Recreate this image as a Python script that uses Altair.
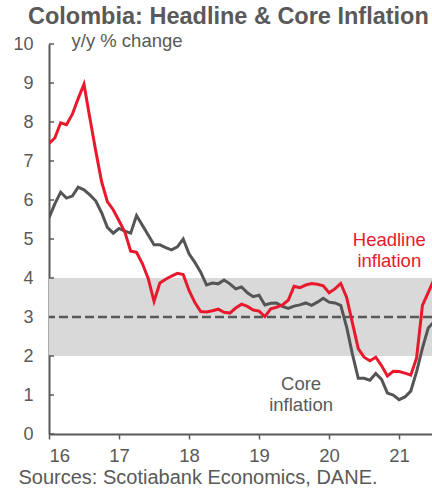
import altair as alt
import pandas as pd

# Monthly y/y inflation, Jan 2016 - Jul 2021
headline = [
    7.45, 7.59, 7.98, 7.93, 8.20, 8.60, 8.97, 8.10, 7.27, 6.48, 5.96, 5.75,
    5.47, 5.18, 4.69, 4.66, 4.37, 3.99, 3.40, 3.87, 3.97, 4.05, 4.12, 4.09,
    3.68, 3.37, 3.14, 3.13, 3.16, 3.20, 3.12, 3.10, 3.23, 3.33, 3.27, 3.18,
    3.15, 3.01, 3.21, 3.25, 3.31, 3.43, 3.79, 3.75, 3.82, 3.86, 3.84, 3.80,
    3.62, 3.72, 3.86, 3.51, 2.85, 2.19, 1.97, 1.88, 1.97, 1.75, 1.49, 1.61,
    1.60, 1.56, 1.51, 1.95, 3.30, 3.63, 3.97,
]
core = [
    5.54, 5.90, 6.20, 6.05, 6.10, 6.33, 6.26, 6.13, 5.98, 5.68, 5.30, 5.15,
    5.27, 5.20, 5.15, 5.60, 5.35, 5.10, 4.85, 4.85, 4.78, 4.72, 4.80, 5.00,
    4.62, 4.40, 4.15, 3.82, 3.87, 3.85, 3.95, 3.85, 3.72, 3.77, 3.62, 3.52,
    3.56, 3.31, 3.35, 3.36, 3.27, 3.22, 3.28, 3.31, 3.36, 3.30, 3.38, 3.48,
    3.38, 3.36, 3.30, 2.75, 2.05, 1.43, 1.43, 1.38, 1.55, 1.40, 1.05, 1.00,
    0.88, 0.95, 1.10, 1.60, 2.20, 2.72, 2.88,
]
year_ticks = [16, 17, 18, 19, 20, 21]
value_ticks = [0, 1, 2, 3, 4, 5, 6, 7, 8, 9, 10]
target_low, target_mid, target_high = 2, 3, 4
x_start, x_end = 16, 21.47

labels = ["Headline\ninflation", "Core\ninflation"]
label_x = [20.86, 19.6]
label_y = [4.97, 1.27]
label_colors = ["#e8192c", "#595959"]

GRAY = "#595959"
RED = "#e8192c"
CORE = "#555555"
FONT = "Liberation Sans"

n = len(headline)
t = [16 + i / 12 for i in range(n)]
head_df = pd.DataFrame({"t": t, "v": headline})
core_df = pd.DataFrame({"t": t, "v": core})
band_df = pd.DataFrame({"t": [x_start], "t2": [x_end], "lo": [target_low], "hi": [target_high]})
mid_df = pd.DataFrame({"v": [target_mid]})
tick_df = pd.DataFrame({"v": value_ticks})
label_df = pd.DataFrame({"label": labels, "t": label_x, "v": label_y, "c": label_colors})

x_scale = alt.Scale(domain=[x_start, x_end], nice=False, zero=False)
y_scale = alt.Scale(domain=[0, 10], nice=False)

x_axis = alt.Axis(
    values=year_ticks, format="d", title="Sources: Scotiabank Economics, DANE.",
    titleAnchor="start", titleAlign="left", titleX=-31, titleY=49,
    titleBaseline="alphabetic", titleFontSize=20, titleFontWeight="normal",
    titleColor=GRAY, labelFontSize=18.5, labelColor=GRAY, labelPadding=7,
    tickSize=5, tickColor=GRAY, tickWidth=1.5, domainColor=GRAY, domainWidth=2,
    grid=False,
)
y_axis = alt.Axis(
    values=value_ticks, title="y/y % change", titleAngle=0, titleAlign="left",
    titleX=22, titleY=-4, titleBaseline="middle", titleFontSize=18.5,
    titleFontWeight="normal", titleColor=GRAY, labelFontSize=18, labelColor=GRAY,
    labelPadding=16, tickSize=0, domainColor=GRAY, domainWidth=2, grid=False,
)

band = alt.Chart(band_df).mark_rect(color="#d9d9d9").encode(
    x=alt.X("t:Q", scale=x_scale, axis=x_axis),
    x2="t2:Q",
    y=alt.Y("lo:Q", scale=y_scale, axis=y_axis),
    y2="hi:Q",
)

mid = alt.Chart(mid_df).mark_rule(color=GRAY, strokeWidth=2.5, strokeDash=[9, 4]).encode(
    y=alt.Y("v:Q", scale=y_scale, axis=y_axis),
)

ticks = alt.Chart(tick_df).mark_rule(color=GRAY, strokeWidth=1.5).encode(
    y=alt.Y("v:Q", scale=y_scale, axis=y_axis),
    x=alt.value(0),
    x2=alt.value(5),
)

core_line = alt.Chart(core_df).mark_line(color=CORE, strokeWidth=3, clip=True).encode(
    x=alt.X("t:Q", scale=x_scale, axis=x_axis),
    y=alt.Y("v:Q", scale=y_scale, axis=y_axis),
)

head_line = alt.Chart(head_df).mark_line(color=RED, strokeWidth=3, clip=True).encode(
    x=alt.X("t:Q", scale=x_scale, axis=x_axis),
    y=alt.Y("v:Q", scale=y_scale, axis=y_axis),
)

notes = alt.Chart(label_df).mark_text(
    fontSize=18.5, lineBreak="\n", lineHeight=21, align="center", baseline="middle"
).encode(
    x=alt.X("t:Q", scale=x_scale, axis=x_axis),
    y=alt.Y("v:Q", scale=y_scale, axis=y_axis),
    text="label:N",
    color=alt.Color("c:N", scale=None),
)

chart = alt.layer(band, mid, core_line, head_line, ticks, notes).properties(
    width=383,
    height=390,
    autosize=alt.AutoSizeParams(type="none"),
    padding={"left": 49, "top": 44, "right": 0, "bottom": 65},
    title=alt.TitleParams(
        "Colombia: Headline & Core Inflation", anchor="start", frame="group",
        dx=-21, dy=5, offset=8, fontSize=23.5, fontWeight="bold", color=GRAY, font=FONT,
    ),
).configure(font=FONT).configure_view(stroke=None)

chart.save("out.html", embed_options={"renderer": "svg", "actions": False})
